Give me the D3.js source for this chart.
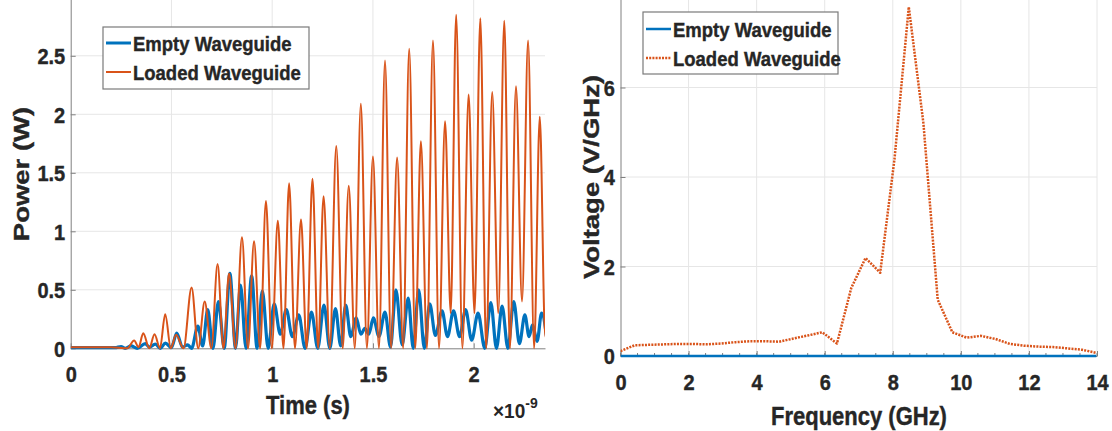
<!DOCTYPE html>
<html>
<head>
<meta charset="utf-8">
<script src="https://cdn.jsdelivr.net/npm/d3@7"></script>
<style>
body { margin: 0; background: #fff; }
text { font-family: "Liberation Sans", Arial, sans-serif; font-weight: bold; fill: #262626; stroke: #262626; stroke-width: 0.35px; }
</style>
</head>
<body>
<svg id="chart" width="1112" height="431"></svg>
<script>
// time domain: [time in ns, power in W] at peaks and dips
var loadedPower = [
	[0, 0.01], [0.2, 0.01], [0.28, 0], [0.315, 0.066], [0.337, 0.01], [0.36, 0.128], [0.39, 0],
	[0.416, 0.12], [0.443, 0], [0.469, 0.29], [0.497, 0], [0.523, 0.115], [0.56, 0], [0.6, 0.52],
	[0.633, 0], [0.665, 0.4], [0.698, 0], [0.729, 0.72], [0.758, 0], [0.786, 0.64], [0.818, 0],
	[0.85, 0.95], [0.88, 0], [0.91, 0.915], [0.94, 0], [0.969, 1.26], [0.998, 0], [1.028, 1.09],
	[1.056, 0], [1.084, 1.41], [1.113, 0], [1.143, 1.1], [1.171, 0], [1.2, 1.45], [1.228, 0],
	[1.255, 1.3], [1.286, 0], [1.318, 1.73], [1.35, 0], [1.38, 1.39], [1.41, 0], [1.44, 2.09],
	[1.47, 0], [1.5, 1.64], [1.53, 0], [1.56, 2.46], [1.59, 0], [1.62, 1.63], [1.65, 0],
	[1.68, 2.56], [1.71, 0], [1.738, 1.77], [1.768, 0], [1.798, 2.63], [1.828, 0], [1.858, 1.94],
	[1.886, 0.3], [1.913, 2.85], [1.944, 0], [1.975, 2.17], [2.004, 0.3], [2.033, 2.82], [2.062, 0],
	[2.092, 2.19], [2.122, 0.3], [2.152, 2.8], [2.18, 0], [2.21, 2.24], [2.24, 0.4], [2.27, 2.63],
	[2.3, 0], [2.328, 1.98], [2.355, 0.1], [2.362, 0.2]
];
var emptyPower = [
	[0, 0.005], [0.22, 0.005], [0.25, 0.015], [0.27, 0], [0.3, 0.02], [0.33, 0], [0.37, 0.04],
	[0.39, 0.01], [0.42, 0.035], [0.445, 0], [0.47, 0.045], [0.5, 0.005], [0.526, 0.13], [0.555, 0.01],
	[0.58, 0.03], [0.6, 0], [0.631, 0.19], [0.655, 0.02], [0.68, 0.33], [0.706, 0], [0.733, 0.4],
	[0.762, 0], [0.79, 0.64], [0.818, 0], [0.843, 0.54], [0.87, 0], [0.898, 0.62], [0.925, 0],
	[0.951, 0.49], [0.98, 0], [1.01, 0.38], [1.04, 0.12], [1.07, 0.33], [1.1, 0.1], [1.132, 0.285],
	[1.163, 0], [1.195, 0.31], [1.226, 0], [1.257, 0.37], [1.286, 0], [1.314, 0.34], [1.34, 0.02],
	[1.365, 0.37], [1.39, 0.1], [1.417, 0.26], [1.44, 0.12], [1.46, 0.17], [1.48, 0.12], [1.502, 0.26],
	[1.53, 0.1], [1.56, 0.31], [1.587, 0.01], [1.614, 0.5], [1.645, 0.03], [1.675, 0.43], [1.7, 0],
	[1.727, 0.5], [1.755, 0], [1.782, 0.38], [1.81, 0.11], [1.843, 0.32], [1.87, 0.1], [1.9, 0.32],
	[1.93, 0.1], [1.96, 0.33], [1.99, 0.07], [2.022, 0.3], [2.055, 0], [2.085, 0.39], [2.113, 0],
	[2.141, 0.36], [2.17, 0], [2.199, 0.4], [2.227, 0.04], [2.254, 0.285], [2.275, 0.1], [2.292, 0.2],
	[2.315, 0.06], [2.337, 0.3], [2.363, 0.09]
];

// spectrum: one value per FFT bin
var freqGHz = [0, 0.42, 0.85, 1.27, 1.69, 2.12, 2.54, 2.97, 3.39, 3.81, 4.24, 4.66, 5.08, 5.51,
	5.93, 6.36, 6.78, 7.2, 7.63, 8.05, 8.47, 8.9, 9.32, 9.75, 10.17, 10.59, 11.02, 11.44, 11.86,
	12.29, 12.71, 13.14, 13.56, 13.98];
var loadedVolt = [0.11, 0.24, 0.25, 0.26, 0.27, 0.27, 0.26, 0.28, 0.31, 0.33, 0.33, 0.32, 0.39, 0.46,
	0.53, 0.28, 1.52, 2.19, 1.86, 4.4, 7.8, 5.2, 1.26, 0.53, 0.41, 0.45, 0.38, 0.27, 0.23,
	0.21, 0.2, 0.17, 0.14, 0.07];
var emptyVolt = [0, 0, 0, 0, 0, 0, 0, 0, 0, 0, 0, 0, 0, 0, 0, 0, 0, 0, 0, 0, 0, 0, 0, 0, 0, 0, 0, 0, 0,
	0, 0, 0, 0, 0];

var timeTicks = [0, 0.5, 1, 1.5, 2];
var powerTicks = [0, 0.5, 1, 1.5, 2, 2.5];
var freqTicks = [0, 2, 4, 6, 8, 10, 12, 14];
var freqMinor = d3.range(0, 14.01, 0.5);
var voltTicks = [0, 2, 4, 6];
var seriesNames = ["Empty Waveguide", "Loaded Waveguide"];

var blue = "#0072BD", orange = "#D95319";
var axisGrey = "#808080", gridGrey = "#e6e6e6";

var svg = d3.select("#chart");

function drawPanel(p) {
	var x = d3.scaleLinear().domain(p.xDomain).range(p.xRange);
	var y = d3.scaleLinear().domain(p.yDomain).range(p.yRange);
	var g = svg.append("g");
	var w = p.xRange[1] - p.xRange[0];
	var fmt = function(d) { return String(d); };

	// grid
	g.append("g").selectAll("line").data(p.xTicks.filter(function(d) { return d > p.xDomain[0]; }))
		.enter().append("line")
		.attr("x1", x).attr("x2", x).attr("y1", p.yRange[0]).attr("y2", p.yRange[1])
		.attr("stroke", gridGrey).attr("stroke-width", 1);
	g.append("g").selectAll("line").data(p.yTicks.filter(function(d) { return d > 0; }))
		.enter().append("line")
		.attr("x1", p.xRange[0]).attr("x2", p.xRange[1]).attr("y1", y).attr("y2", y)
		.attr("stroke", gridGrey).attr("stroke-width", 1);

	// axes
	var xa = g.append("g")
		.attr("transform", "translate(0," + p.yRange[0] + ")")
		.call(d3.axisBottom(x).tickValues(p.xTicks).tickFormat(fmt).tickSize(-5).tickSizeOuter(0));
	var ya = g.append("g")
		.attr("transform", "translate(" + p.xRange[0] + ",0)")
		.call(d3.axisLeft(y).tickValues(p.yTicks).tickFormat(fmt).tickSize(-5).tickSizeOuter(0));
	[xa, ya].forEach(function(a) {
		a.attr("font-family", null).attr("font-size", null);
		a.select(".domain").attr("stroke", axisGrey);
		a.selectAll(".tick line").attr("stroke", axisGrey);
		a.selectAll("text").attr("font-size", 20).attr("fill", "#262626");
	});
	xa.selectAll("text").attr("y", 0).attr("dy", 0)
		.attr("transform", "translate(0,33.5) scale(1,1.1)");
	ya.selectAll("text").attr("x", 0).attr("dy", 0)
		.attr("transform", "translate(-5.5,7.8) scale(1,1.1)");

	if (p.minor) {
		g.append("g").selectAll("line").data(p.minor).enter().append("line")
			.attr("x1", x).attr("x2", x)
			.attr("y1", p.yRange[0]).attr("y2", p.yRange[0] - 3)
			.attr("stroke", axisGrey);
	}

	// lines
	var clipId = "clip" + p.id;
	svg.append("clipPath").attr("id", clipId).append("rect")
		.attr("x", p.xRange[0]).attr("y", p.yRange[1])
		.attr("width", w).attr("height", p.yRange[0] - p.yRange[1] + 2);
	var lines = g.append("g").attr("clip-path", "url(#" + clipId + ")");
	p.series.forEach(function(s) {
		var line = d3.line()
			.x(function(d) { return x(d[0]); })
			.y(function(d) { return y(d[1]); })
			.curve(s.curve);
		lines.append("path")
			.datum(s.data)
			.attr("d", line)
			.attr("fill", "none")
			.attr("stroke", s.color)
			.attr("stroke-width", s.width)
			.attr("stroke-dasharray", s.dash || null)
			.attr("stroke-linejoin", "round");
	});

	// axis labels
	g.append("text")
		.attr("transform", "translate(" + p.xLabelPos[0] + "," + p.xLabelPos[1] + ") scale(1,1.2)")
		.attr("text-anchor", "middle").attr("font-size", 22)
		.text(p.xLabel);
	g.append("text")
		.attr("transform", "translate(" + p.yLabelPos[0] + "," + p.yLabelPos[1] + ") scale(1,1.25) rotate(-90)")
		.attr("text-anchor", "middle").attr("font-size", 22)
		.text(p.yLabel);

	// legend
	var L = p.legend;
	var lg = g.append("g").attr("transform", "translate(" + L.x + "," + L.y + ")");
	lg.append("rect").attr("width", L.w).attr("height", L.h)
		.attr("fill", "#fff").attr("stroke", "#7a7a7a").attr("stroke-width", 1.2);
	p.series.forEach(function(s, i) {
		var cy = L.rowY[i];
		lg.append("line").attr("x1", 3).attr("x2", 28).attr("y1", cy).attr("y2", cy)
			.attr("stroke", s.color).attr("stroke-width", s.legendWidth || s.width)
			.attr("stroke-dasharray", s.dash || null);
		lg.append("text")
			.attr("transform", "translate(30," + (cy + 7.5) + ") scale(1,1.1)")
			.attr("font-size", 18.5)
			.text(seriesNames[i]);
	});
	return { x: x, y: y };
}

drawPanel({
	id: "time",
	xDomain: [0, 2.354], xRange: [70.7, 545],
	yDomain: [0, 3], yRange: [348.3, -2.7],
	xTicks: timeTicks, yTicks: powerTicks,
	xLabel: "Time (s)", xLabelPos: [308, 414],
	yLabel: "Power (W)", yLabelPos: [29, 174],
	legend: { x: 103, y: 27, w: 206, h: 62, rowY: [16, 45] },
	series: [
		{ data: emptyPower, color: blue, width: 3.2, legendWidth: 3, curve: d3.curveMonotoneX },
		{ data: loadedPower, color: orange, width: 2, curve: d3.curveMonotoneX }
	]
});

drawPanel({
	id: "freq",
	xDomain: [0, 14], xRange: [620.5, 1097],
	yDomain: [0, 8], yRange: [356, -2],
	xTicks: freqTicks, yTicks: voltTicks, minor: freqMinor,
	xLabel: "Frequency (GHz)", xLabelPos: [859, 425],
	yLabel: "Voltage (V/GHz)", yLabelPos: [599, 177],
	legend: { x: 643, y: 12, w: 195, h: 62, rowY: [17, 46] },
	series: [
		{ data: d3.zip(freqGHz, emptyVolt), color: blue, width: 2.5, curve: d3.curveLinear },
		{ data: d3.zip(freqGHz, loadedVolt), color: orange, width: 2.5, dash: "2,1.2", curve: d3.curveLinear }
	]
});

// exponent label of the time axis
var expo = svg.append("text")
	.attr("transform", "translate(493,418) scale(1,1.1)")
	.attr("font-size", 19).attr("font-weight", "normal").style("stroke-width", "0px");
expo.append("tspan").text("\u00d710");
expo.append("tspan").attr("dy", -9).attr("font-size", 14).text("-9");
</script>
</body>
</html>
